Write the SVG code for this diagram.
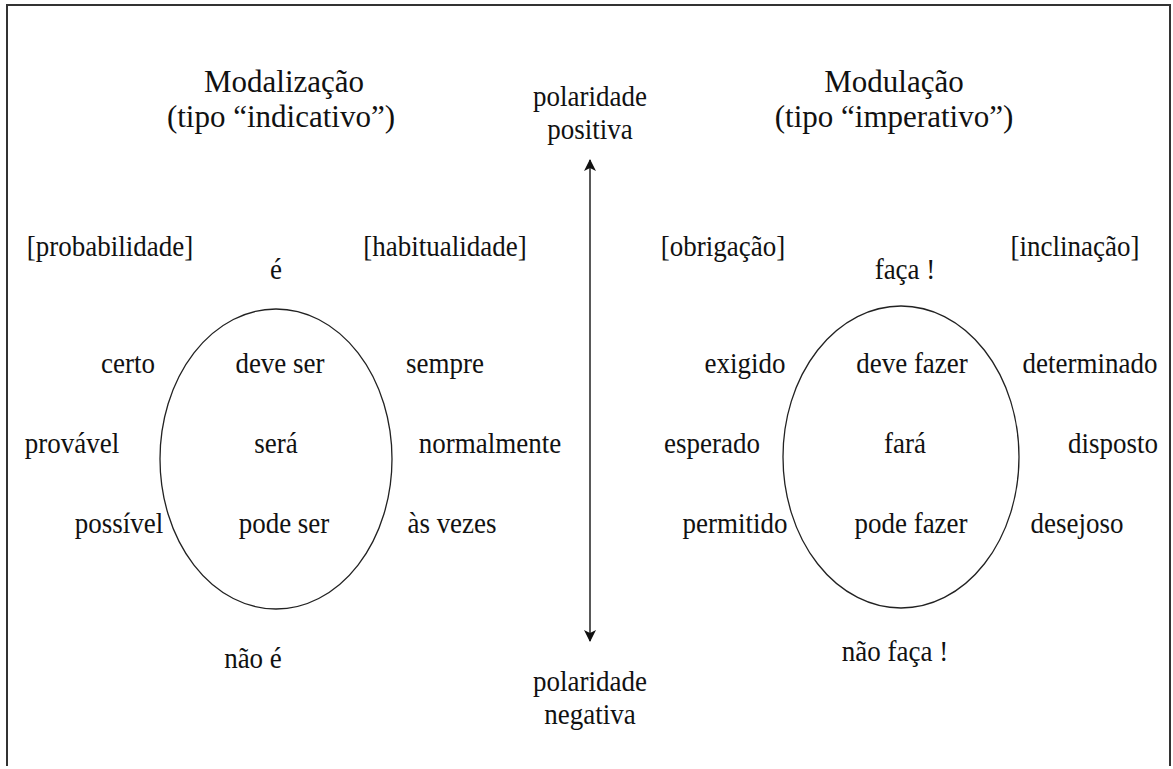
<svg xmlns="http://www.w3.org/2000/svg" width="1173" height="769" viewBox="0 0 1173 769">
<style>
text{font-family:"Liberation Serif","Times New Roman",serif;fill:#111;text-anchor:middle}
.t{font-size:31px}
.b{font-size:27px;transform-box:fill-box;transform-origin:50% 80.5%;transform:scaleY(1.12)}
.c{fill:none;stroke:#222;stroke-width:1.3}
</style>
<defs>
<marker id="ah" viewBox="0 0 12 12" refX="11" refY="6" markerWidth="12" markerHeight="12" markerUnits="userSpaceOnUse" orient="auto-start-reverse">
<path d="M0,0 L12,6 L0,12 L3,6 Z" fill="#111"/>
</marker>
</defs>
<rect width="1173" height="769" fill="#fff"/>
<g id="frame">
<path d="M7,766 V5 H1170 V766" fill="none" stroke="#333" stroke-width="2"/>
</g>
<g id="connectors">
<line x1="590" y1="160" x2="590" y2="641" stroke="#222" stroke-width="1.5" marker-start="url(#ah)" marker-end="url(#ah)"/>
</g>
<g id="modalizacao">
<text class="t" x="284" y="92">Modalização</text>
<text class="t" x="281" y="127">(tipo “indicativo”)</text>
</g>
<g id="modulacao">
<text class="t" x="894" y="92">Modulação</text>
<text class="t" x="894" y="127">(tipo “imperativo”)</text>
</g>
<g id="pol-pos">
<text class="b" x="590" y="106">polaridade</text>
<text class="b" x="590" y="139">positiva</text>
</g>
<g id="pol-neg">
<text class="b" x="590" y="691">polaridade</text>
<text class="b" x="590" y="724">negativa</text>
</g>
<g id="left-circle">
<ellipse class="c" cx="276" cy="459" rx="116" ry="150"/>
<text class="b" x="280" y="373">deve ser</text>
<text class="b" x="276" y="453">será</text>
<text class="b" x="284" y="533">pode ser</text>
</g>
<g id="left-labels">
<text class="b" x="110" y="256">[probabilidade]</text>
<text class="b" x="276" y="279">é</text>
<text class="b" x="445" y="256">[habitualidade]</text>
<text class="b" x="128" y="373">certo</text>
<text class="b" x="72" y="453">provável</text>
<text class="b" x="119" y="533">possível</text>
<text class="b" x="445" y="373">sempre</text>
<text class="b" x="490" y="453">normalmente</text>
<text class="b" x="452" y="533">às vezes</text>
<text class="b" x="253" y="668">não é</text>
</g>
<g id="right-circle">
<ellipse class="c" cx="901" cy="457" rx="118" ry="151"/>
<text class="b" x="912" y="373">deve fazer</text>
<text class="b" x="905" y="453">fará</text>
<text class="b" x="911" y="533">pode fazer</text>
</g>
<g id="right-labels">
<text class="b" x="723" y="256">[obrigação]</text>
<text class="b" x="905" y="279">faça !</text>
<text class="b" x="1075" y="256">[inclinação]</text>
<text class="b" x="745" y="373">exigido</text>
<text class="b" x="712" y="453">esperado</text>
<text class="b" x="735" y="533">permitido</text>
<text class="b" x="1090" y="373">determinado</text>
<text class="b" x="1113" y="453">disposto</text>
<text class="b" x="1077" y="533">desejoso</text>
<text class="b" x="895" y="661">não faça !</text>
</g>
</svg>
